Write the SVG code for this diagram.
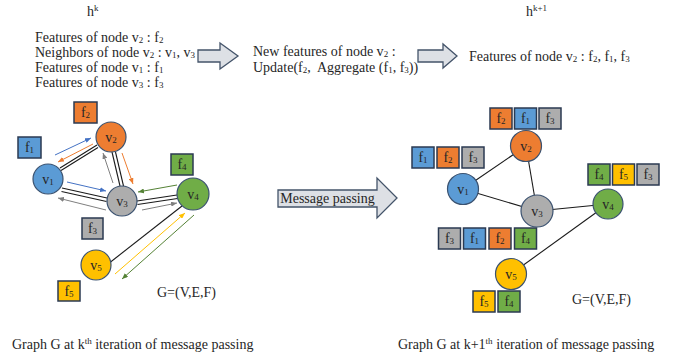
<svg xmlns="http://www.w3.org/2000/svg" width="678" height="358" viewBox="0 0 678 358">
<style>
text{font-family:"Liberation Serif","Times New Roman",serif;fill:#262626}
.t{font-size:14px;white-space:pre}
.s{font-size:9px}
.lbl{font-size:14px;text-anchor:middle}
.nd{stroke:#3B5270;stroke-width:1.2}
.bx{stroke:#2B3A52;stroke-width:1.5}
.e{stroke:#1a1a1a;stroke-width:1.1;fill:none}
.blue{fill:#5B9BD5}.orange{fill:#ED7D31}.gray{fill:#ADADAD}.green{fill:#70AD47}.yellow{fill:#FFC000}
.big{fill:#DDE0E5;stroke:#44546A;stroke-width:1.3}
.ab{stroke:#4472C4;stroke-width:1;marker-end:url(#mb)}
.ao{stroke:#ED7D31;stroke-width:1;marker-end:url(#mo)}
.ag{stroke:#7F7F7F;stroke-width:1;marker-end:url(#mg)}
.agr{stroke:#548235;stroke-width:1;marker-end:url(#mgr)}
.ay{stroke:#FFC000;stroke-width:1;marker-end:url(#my)}
</style>
<defs>
<marker id="mb" markerUnits="userSpaceOnUse" markerWidth="6" markerHeight="5" refX="6" refY="2.5" orient="auto"><path d="M0,0 L6,2.5 L0,5 z" fill="#4472C4"/></marker>
<marker id="mo" markerUnits="userSpaceOnUse" markerWidth="6" markerHeight="5" refX="6" refY="2.5" orient="auto"><path d="M0,0 L6,2.5 L0,5 z" fill="#ED7D31"/></marker>
<marker id="mg" markerUnits="userSpaceOnUse" markerWidth="6" markerHeight="5" refX="6" refY="2.5" orient="auto"><path d="M0,0 L6,2.5 L0,5 z" fill="#7F7F7F"/></marker>
<marker id="mgr" markerUnits="userSpaceOnUse" markerWidth="6" markerHeight="5" refX="6" refY="2.5" orient="auto"><path d="M0,0 L6,2.5 L0,5 z" fill="#548235"/></marker>
<marker id="my" markerUnits="userSpaceOnUse" markerWidth="6" markerHeight="5" refX="6" refY="2.5" orient="auto"><path d="M0,0 L6,2.5 L0,5 z" fill="#FFC000"/></marker>
</defs>

<!-- Top texts -->
<g id="hk">
<text class="t" x="87" y="16">h<tspan class="s" dy="-5">k</tspan></text>
</g>
<g id="left-text">
<text class="t" x="35" y="42">Features of node v<tspan class="s" dy="1">2</tspan><tspan dy="-1"> : f</tspan><tspan class="s" dy="1">2</tspan></text>
<text class="t" x="35" y="57">Neighbors of node v<tspan class="s" dy="1">2</tspan><tspan dy="-1"> : v</tspan><tspan class="s" dy="1">1</tspan><tspan dy="-1">, v</tspan><tspan class="s" dy="1">3</tspan></text>
<text class="t" x="35" y="72">Features of node v<tspan class="s" dy="1">1</tspan><tspan dy="-1"> : f</tspan><tspan class="s" dy="1">1</tspan></text>
<text class="t" x="35" y="87">Features of node v<tspan class="s" dy="1">3</tspan><tspan dy="-1"> : f</tspan><tspan class="s" dy="1">3</tspan></text>
</g>
<g id="arrow1"><path class="big" d="M198,50 H220 V43 L238,56 L220,69 V62 H198 Z"/></g>
<g id="mid-text">
<text class="t" x="253" y="56">New features of node v<tspan class="s" dy="1">2</tspan><tspan dy="-1"> :</tspan></text>
<text class="t" x="253" y="72">Update(f<tspan class="s" dy="1">2</tspan><tspan dy="-1">,  Aggregate (f</tspan><tspan class="s" dy="1">1</tspan><tspan dy="-1">, f</tspan><tspan class="s" dy="1">3</tspan><tspan dy="-1">))</tspan></text>
</g>
<g id="arrow2"><path class="big" d="M418,50 H443 V44 L457,56 L443,68 V62 H418 Z"/></g>
<g id="hk1">
<text class="t" x="526" y="16">h<tspan class="s" dy="-5">k+1</tspan></text>
</g>
<g id="right-text">
<text class="t" x="469" y="61">Features of node v<tspan class="s" dy="1">2</tspan><tspan dy="-1"> : f</tspan><tspan class="s" dy="1">2</tspan><tspan dy="-1">, f</tspan><tspan class="s" dy="1">1</tspan><tspan dy="-1">, f</tspan><tspan class="s" dy="1">3</tspan></text>
</g>

<!-- Left graph connectors -->
<g id="left-connectors">
<line class="e" x1="60" y1="168" x2="97" y2="145"/>
<line class="e" x1="61" y1="170.5" x2="98" y2="147.5"/>
<line class="e" x1="112" y1="152" x2="120" y2="186"/>
<line class="e" x1="115.5" y1="152" x2="123.5" y2="186"/>
<line class="e" x1="62" y1="188" x2="107" y2="198"/>
<line class="e" x1="61.5" y1="191.5" x2="106.5" y2="201.5"/>
<line class="e" x1="137" y1="201" x2="177" y2="195"/>
<line class="e" x1="137.5" y1="204.5" x2="177.5" y2="198.5"/>
<line class="e" x1="182" y1="206" x2="108" y2="264"/>
<line class="ab" x1="55" y1="155" x2="91" y2="138"/>
<line class="ao" x1="93" y1="144" x2="58" y2="162"/>
<line class="ab" x1="67" y1="182" x2="106" y2="191"/>
<line class="ag" x1="106" y1="210" x2="58" y2="198"/>
<line class="ag" x1="113" y1="183" x2="103" y2="153"/>
<line class="ao" x1="122" y1="153" x2="133" y2="184"/>
<line class="agr" x1="177" y1="185" x2="138" y2="192"/>
<line class="ag" x1="142" y1="210" x2="177" y2="203"/>
<line class="ay" x1="115" y1="274" x2="185" y2="213"/>
<line class="agr" x1="194" y1="215" x2="122" y2="279"/>
</g>

<!-- Left graph nodes -->
<g id="L-v1"><circle class="nd blue" cx="48" cy="179" r="15"/><text class="lbl" x="48" y="184">v<tspan class="s" dy="1">1</tspan></text></g>
<g id="L-v2"><circle class="nd orange" cx="111" cy="137" r="15"/><text class="lbl" x="111" y="142">v<tspan class="s" dy="1">2</tspan></text></g>
<g id="L-v3"><circle class="nd gray" cx="122" cy="201" r="15"/><text class="lbl" x="122" y="206">v<tspan class="s" dy="1">3</tspan></text></g>
<g id="L-v4"><circle class="nd green" cx="193" cy="194" r="16"/><text class="lbl" x="193" y="199">v<tspan class="s" dy="1">4</tspan></text></g>
<g id="L-v5"><circle class="nd yellow" cx="96" cy="265" r="15"/><text class="lbl" x="96" y="270">v<tspan class="s" dy="1">5</tspan></text></g>

<g id="L-f2"><rect class="bx orange" x="74" y="102" width="23" height="21"/><text class="lbl" x="85.5" y="117">f<tspan class="s" dy="1">2</tspan></text></g>
<g id="L-f1"><rect class="bx blue" x="18" y="137" width="23" height="21"/><text class="lbl" x="29.5" y="152">f<tspan class="s" dy="1">1</tspan></text></g>
<g id="L-f4"><rect class="bx green" x="171" y="154" width="22" height="21"/><text class="lbl" x="182" y="169">f<tspan class="s" dy="1">4</tspan></text></g>
<g id="L-f3"><rect class="bx gray" x="82" y="218" width="21" height="21"/><text class="lbl" x="92.5" y="233">f<tspan class="s" dy="1">3</tspan></text></g>
<g id="L-f5"><rect class="bx yellow" x="58" y="281" width="22" height="20"/><text class="lbl" x="69" y="296">f<tspan class="s" dy="1">5</tspan></text></g>

<g id="L-G"><text class="t" x="157" y="297">G=(V,E,F)</text></g>

<!-- Message passing arrow -->
<g id="mp-arrow"><path class="big" d="M278,190 H377 V178 L397,198 L377,218 V207 H278 Z"/><text class="t" x="327.5" y="203" text-anchor="middle">Message passing</text></g>

<!-- Right graph connectors -->
<g id="right-connectors">
<line class="e" x1="463" y1="189" x2="526" y2="146"/>
<line class="e" x1="526" y1="146" x2="537" y2="211"/>
<line class="e" x1="463" y1="189" x2="537" y2="211"/>
<line class="e" x1="537" y1="211" x2="608" y2="204"/>
<line class="e" x1="608" y1="204" x2="511" y2="274"/>
</g>

<!-- Right graph nodes -->
<g id="R-v1"><circle class="nd blue" cx="463" cy="189" r="15.5"/><text class="lbl" x="463" y="194">v<tspan class="s" dy="1">1</tspan></text></g>
<g id="R-v2"><circle class="nd orange" cx="526" cy="146" r="15.5"/><text class="lbl" x="526" y="151">v<tspan class="s" dy="1">2</tspan></text></g>
<g id="R-v3"><circle class="nd gray" cx="537" cy="211" r="16"/><text class="lbl" x="537" y="216">v<tspan class="s" dy="1">3</tspan></text></g>
<g id="R-v4"><circle class="nd green" cx="608" cy="204" r="15"/><text class="lbl" x="608" y="209">v<tspan class="s" dy="1">4</tspan></text></g>
<g id="R-v5"><circle class="nd yellow" cx="511" cy="274" r="15.5"/><text class="lbl" x="511" y="279">v<tspan class="s" dy="1">5</tspan></text></g>

<g id="R-v2-feats">
<rect class="bx orange" x="490" y="108" width="22" height="21"/><text class="lbl" x="501" y="123">f<tspan class="s" dy="1">2</tspan></text>
<rect class="bx blue" x="514.5" y="108" width="22" height="21"/><text class="lbl" x="525.5" y="123">f<tspan class="s" dy="1">1</tspan></text>
<rect class="bx gray" x="539" y="108" width="22" height="21"/><text class="lbl" x="550" y="123">f<tspan class="s" dy="1">3</tspan></text>
</g>
<g id="R-v1-feats">
<rect class="bx blue" x="412" y="147" width="22" height="21"/><text class="lbl" x="423" y="162">f<tspan class="s" dy="1">1</tspan></text>
<rect class="bx orange" x="437" y="147" width="22" height="21"/><text class="lbl" x="448" y="162">f<tspan class="s" dy="1">2</tspan></text>
<rect class="bx gray" x="462" y="147" width="22" height="21"/><text class="lbl" x="473" y="162">f<tspan class="s" dy="1">3</tspan></text>
</g>
<g id="R-v4-feats">
<rect class="bx green" x="588" y="164" width="22" height="21"/><text class="lbl" x="599" y="179">f<tspan class="s" dy="1">4</tspan></text>
<rect class="bx yellow" x="612.5" y="164" width="22" height="21"/><text class="lbl" x="623.5" y="179">f<tspan class="s" dy="1">5</tspan></text>
<rect class="bx gray" x="637" y="164" width="22" height="21"/><text class="lbl" x="648" y="179">f<tspan class="s" dy="1">3</tspan></text>
</g>
<g id="R-v3-feats">
<rect class="bx gray" x="438.5" y="228" width="22" height="21"/><text class="lbl" x="449.5" y="243">f<tspan class="s" dy="1">3</tspan></text>
<rect class="bx blue" x="463.5" y="228" width="22" height="21"/><text class="lbl" x="474.5" y="243">f<tspan class="s" dy="1">1</tspan></text>
<rect class="bx orange" x="489" y="228" width="22" height="21"/><text class="lbl" x="500" y="243">f<tspan class="s" dy="1">2</tspan></text>
<rect class="bx green" x="514.5" y="228" width="22" height="21"/><text class="lbl" x="525.5" y="243">f<tspan class="s" dy="1">4</tspan></text>
</g>
<g id="R-v5-feats">
<rect class="bx yellow" x="473" y="291" width="22" height="21"/><text class="lbl" x="484" y="306">f<tspan class="s" dy="1">5</tspan></text>
<rect class="bx green" x="498" y="291" width="22" height="21"/><text class="lbl" x="509" y="306">f<tspan class="s" dy="1">4</tspan></text>
</g>

<g id="R-G"><text class="t" x="572" y="304">G=(V,E,F)</text></g>

<!-- Captions -->
<g id="cap-left"><text class="t" x="12" y="349">Graph G at k<tspan class="s" dy="-5">th</tspan><tspan dy="5"> iteration of message passing</tspan></text></g>
<g id="cap-right"><text class="t" x="398" y="349">Graph G at k+1<tspan class="s" dy="-5">th</tspan><tspan dy="5"> iteration of message passing</tspan></text></g>
</svg>
